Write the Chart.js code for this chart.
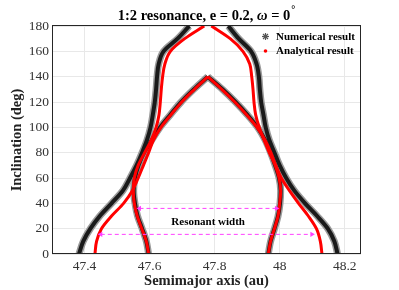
<!DOCTYPE html>
<html>
<head>
<meta charset="utf-8">
<script src="https://cdn.jsdelivr.net/npm/chart.js@4/dist/chart.umd.min.js"></script>
<style>
  body { margin: 0; background: #fff; }
  #wrap { width: 399px; height: 290px; }
</style>
</head>
<body>
<div id="wrap"><canvas id="chart"></canvas></div>
<script>
// Inclination samples (deg)
const incl = [0, 10, 20, 30, 40, 50, 60, 70, 80, 90, 100, 110, 120, 130, 140, 150, 160, 170, 180];
const inclTent = [0, 10, 20, 30, 40, 50, 60, 70, 80, 90, 100, 110, 120, 130, 140];

// Numerical result (semimajor axis, au)
const numOuterLeft  = [47.383, 47.396, 47.418, 47.447, 47.483, 47.518, 47.540, 47.560, 47.577, 47.592, 47.603, 47.610, 47.616, 47.620, 47.623, 47.628, 47.643, 47.686, 47.722];
const numOuterRight = [48.178, 48.168, 48.148, 48.115, 48.078, 48.045, 48.020, 48.000, 47.984, 47.968, 47.957, 47.950, 47.943, 47.939, 47.936, 47.929, 47.912, 47.874, 47.842];
const numTentLeft   = [47.597, 47.590, 47.577, 47.563, 47.555, 47.551, 47.555, 47.566, 47.583, 47.607, 47.632, 47.664, 47.697, 47.736, 47.779];
const numTentRight  = [47.965, 47.972, 47.984, 47.995, 48.001, 48.003, 47.998, 47.986, 47.972, 47.955, 47.932, 47.900, 47.864, 47.824, 47.779];

// Analytical result (semimajor axis, au)
const anaUpperLeft  = [47.597, 47.590, 47.576, 47.562, 47.553, 47.550, 47.553, 47.565, 47.585, 47.605, 47.620, 47.629, 47.633, 47.636, 47.640, 47.647, 47.664, 47.708, 47.768];
const anaUpperRight = [47.965, 47.972, 47.984, 47.995, 48.000, 48.003, 47.998, 47.986, 47.968, 47.952, 47.937, 47.926, 47.921, 47.918, 47.914, 47.908, 47.887, 47.848, 47.790];
const anaTentLeft   = [47.432, 47.437, 47.452, 47.483, 47.520, 47.547, 47.565, 47.581, 47.597, 47.612, 47.635, 47.666, 47.699, 47.738, 47.779];
const anaTentRight  = [48.130, 48.125, 48.113, 48.088, 48.058, 48.030, 48.005, 47.988, 47.973, 47.955, 47.930, 47.898, 47.862, 47.822, 47.779];

// Resonant width arrows
const widthLevels = [36, 15.5];
const widthLeft   = [47.569, 47.45];
const widthRight  = [47.99, 48.099];

// Axis ticks
const xTicks = [47.4, 47.6, 47.8, 48, 48.2];
const yTicks = [0, 20, 40, 60, 80, 100, 120, 140, 160, 180];

const SERIF = "'Liberation Serif', 'Times New Roman', serif";

function pts(xs, ys) {
    return xs.map((x, i) => ({ x: x, y: ys[i] }));
}

// curves are functions of inclination, so interpolate along y
function curve(xs, ys, color, width, order) {
    return {
        data: pts(xs, ys),
        indexAxis: 'y',
        cubicInterpolationMode: 'monotone',
        borderColor: color,
        borderWidth: width,
        order: order
    };
}

function numLayers(xs, ys) {
    return [curve(xs, ys, '#9a9a9a', 7, 3), curve(xs, ys, '#1a1a1a', 4, 2)];
}

const datasets = [
    ...numLayers(numOuterLeft, incl),
    ...numLayers(numOuterRight, incl),
    ...numLayers(numTentLeft, inclTent),
    ...numLayers(numTentRight, inclTent),
    curve(anaUpperLeft, incl, '#ff0000', 3, 1),
    curve(anaUpperRight, incl, '#ff0000', 3, 1),
    curve(anaTentLeft, inclTent, '#ff0000', 3, 1),
    curve(anaTentRight, inclTent, '#ff0000', 3, 1)
];

widthLevels.forEach((lvl, i) => {
    datasets.push({
        data: [{ x: widthLeft[i], y: lvl }, { x: widthRight[i], y: lvl }],
        borderColor: '#ff40ff',
        borderWidth: 1,
        borderDash: [4, 3],
        tension: 0,
        pointStyle: 'triangle',
        pointRadius: 3,
        pointRotation: [-90, 90],
        pointBackgroundColor: '#ff40ff',
        pointBorderWidth: 0,
        order: 0
    });
});

// Title, legend, frame and annotation text
const overlay = {
    id: 'overlay',
    afterDraw(chart) {
        const ctx = chart.ctx;
        const area = chart.chartArea;
        const xs = chart.scales.x, ys = chart.scales.y;
        ctx.save();

        // axis box
        ctx.strokeStyle = '#262626';
        ctx.lineWidth = 1;
        ctx.strokeRect(area.left + 0.5, area.top - 0.5, area.right - area.left - 1, area.bottom - area.top);

        // title with italic omega
        const parts = [
            ['1:2 resonance, e = 0.2, ', 'bold 14.5px ' + SERIF],
            ['\u03c9', 'italic bold 14.5px ' + SERIF],
            [' = 0', 'bold 14.5px ' + SERIF]
        ];
        const degFont = 'bold 10px ' + SERIF;
        let total = 0;
        parts.forEach(p => { ctx.font = p[1]; total += ctx.measureText(p[0]).width; });
        ctx.font = degFont;
        total += ctx.measureText('\u00b0').width + 1;
        let tx = (area.left + area.right) / 2 - total / 2;
        const ty = 20;
        ctx.fillStyle = '#000';
        ctx.textBaseline = 'alphabetic';
        ctx.textAlign = 'left';
        parts.forEach(p => {
            ctx.font = p[1];
            ctx.fillText(p[0], tx, ty);
            tx += ctx.measureText(p[0]).width;
        });
        ctx.font = degFont;
        ctx.fillText('\u00b0', tx + 1, ty - 7);

        // legend
        const lx = 265.5, ly1 = 36.5, ly2 = 51;
        ctx.strokeStyle = '#555';
        ctx.lineWidth = 1.2;
        for (let a = 0; a < 4; a++) {
            const ang = a * Math.PI / 4;
            ctx.beginPath();
            ctx.moveTo(lx - 3.5 * Math.cos(ang), ly1 - 3.5 * Math.sin(ang));
            ctx.lineTo(lx + 3.5 * Math.cos(ang), ly1 + 3.5 * Math.sin(ang));
            ctx.stroke();
        }
        ctx.fillStyle = '#ff0000';
        ctx.beginPath();
        ctx.arc(lx, ly2, 1.8, 0, Math.PI * 2);
        ctx.fill();
        ctx.fillStyle = '#000';
        ctx.font = 'bold 11px ' + SERIF;
        ctx.textBaseline = 'middle';
        ctx.fillText('Numerical result', 276, ly1 + 0.5);
        ctx.fillText('Analytical result', 276, ly2 + 0.5);

        // resonant width label
        ctx.font = 'bold 11px ' + SERIF;
        ctx.textAlign = 'center';
        ctx.fillText('Resonant width', xs.getPixelForValue(47.78), ys.getPixelForValue(25.5));
        ctx.restore();
    }
};

new Chart(document.getElementById('chart'), {
    type: 'line',
    data: { datasets: datasets },
    options: {
        responsive: true,
        maintainAspectRatio: false,
        animation: false,
        events: [],
        layout: { padding: { top: 26, right: 38, left: 0, bottom: 0 } },
        elements: {
            point: { radius: 0 },
            line: { fill: false }
        },
        plugins: {
            legend: { display: false },
            tooltip: { enabled: false }
        },
        scales: {
            x: {
                type: 'linear',
                min: 47.3,
                max: 48.25,
                afterBuildTicks: s => { s.ticks = xTicks.map(v => ({ value: v })); },
                afterFit: s => { s.height = 36; },
                grid: { color: '#e8e8e8', drawTicks: false },
                border: { display: false },
                ticks: {
                    color: '#333',
                    padding: 4,
                    font: { family: SERIF, size: 13.5 },
                    callback: v => String(Number(v.toFixed(1)))
                },
                title: {
                    display: true,
                    text: 'Semimajor axis (au)',
                    color: '#222',
                    font: { family: SERIF, size: 14.5, weight: 'bold' },
                    padding: { top: 0, bottom: 0 }
                }
            },
            y: {
                type: 'linear',
                min: 0,
                max: 180,
                afterBuildTicks: s => { s.ticks = yTicks.map(v => ({ value: v })); },
                afterFit: s => { s.width = 52; },
                grid: { color: '#e8e8e8', drawTicks: false },
                border: { display: false },
                ticks: {
                    color: '#333',
                    padding: 3,
                    font: { family: SERIF, size: 13.5 }
                },
                title: {
                    display: true,
                    text: 'Inclination (deg)',
                    color: '#222',
                    font: { family: SERIF, size: 14.5, weight: 'bold' },
                    padding: { top: 9, bottom: 0 }
                }
            }
        }
    },
    plugins: [overlay]
});
</script>
</body>
</html>
